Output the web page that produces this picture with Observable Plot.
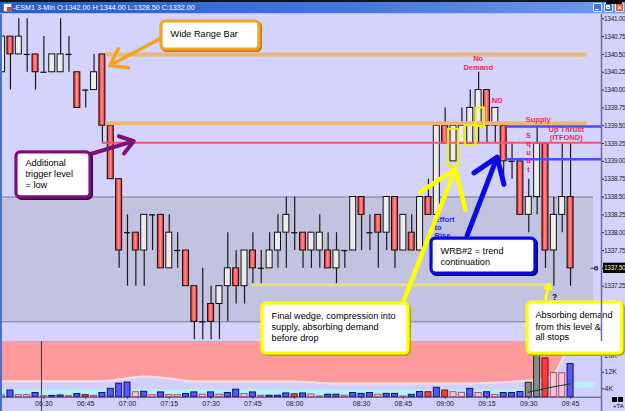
<!DOCTYPE html>
<html>
<head>
<meta charset="utf-8">
<script src="https://cdn.jsdelivr.net/npm/d3@7"></script>
<script src="https://cdn.jsdelivr.net/npm/@observablehq/plot@0.6"></script>
<style>
html,body{margin:0;padding:0;background:#d3d3fb;}
#wrap{position:relative;width:625px;height:411px;overflow:hidden;font-family:"Liberation Sans",Arial,sans-serif;}
#topline{position:absolute;left:0;top:0;width:625px;height:2px;background:#151515;z-index:6}
#xbox{position:absolute;left:606px;top:0;width:16px;height:4px;background:#000;z-index:7}
#tbar{position:absolute;left:0;top:2px;width:625px;height:12px;background:linear-gradient(to right,#2b5bc4 0%,#4676d6 55%,#6c9de8 100%);border-bottom:1px solid #a9c6f2;box-sizing:border-box;z-index:6}
#ticon{position:absolute;left:3px;top:1px;width:7px;height:7px;background:#fff;border:1px solid #6a7aa8;}
#ticon:after{content:"";position:absolute;left:3px;top:3px;width:4px;height:4px;background:#d04040;}
#ttext{position:absolute;left:13px;top:1px;font-size:7.2px;line-height:9px;color:#fff;white-space:nowrap;}
.btn{position:absolute;top:1px;width:9px;height:9px;border:1px solid #e8f0ff;box-sizing:border-box;background:#3f6fda;border-radius:1px;color:#fff;font-size:8px;line-height:7px;text-align:center;font-weight:bold}
.cls{background:#e0582c}
.g1{position:absolute;left:1px;top:5px;width:4px;height:1px;background:#fff}
.g2{position:absolute;left:1px;top:1px;width:4px;height:4px;border:1px solid #fff;border-top-width:2px;box-sizing:border-box}
#lborder{position:absolute;left:0;top:14px;width:2px;height:397px;background:#4d6ec6;z-index:5}
#corner{position:absolute;left:611px;top:397px;width:14px;height:14px;z-index:5}
.sq{position:absolute;top:0;width:5px;height:5px;background:#000}
#ta{position:absolute;left:2px;top:6px;font-size:6px;color:#000}
#wrap svg{position:absolute;left:0}
</style>
</head>
<body>
<div id="wrap">
  <div id="topline"></div>
  <div id="xbox"></div>
  <div id="tbar">
    <div id="ticon"></div>
    <div id="ttext">-ESM1 3-Min O:1342.00 H:1344.00 L:1328.50 C:1332.00</div>
    <div class="btn" style="left:593px"><div class="g1"></div></div>
    <div class="btn" style="left:604px"><div class="g2"></div></div>
    <div class="btn cls" style="left:615px">×</div>
  </div>
  <div id="lborder"></div>
  <div id="corner"><span class="sq" style="left:1px"></span><span class="sq" style="left:7px"></span><span id="ta">+TA</span></div>
</div>
<script>
// ---------- DATA (3-min bars, index 0 = 06:15) ----------
const open = [
  1340.25,1340.75,1340.50,1340.50,1340.50,1340.25,1340.25,1340.25,1340.50,1340.25,
  1340.00,1340.00,1340.50,1339.50,1338.75,1338.00,1338.00,1337.75,1338.25,1338.25,
  1337.50,1337.75,1337.75,1337.25,1336.75,1337.00,1337.00,1337.25,1337.50,1337.25,
  1337.75,1337.50,1337.50,1337.75,1338.00,1338.00,1338.00,1337.75,1337.75,1337.75,
  1337.50,1337.75,1337.75,1338.50,1338.00,1338.25,1338.00,1338.50,1337.75,1338.00,
  1337.75,1338.50,1338.25,1339.50,1339.00,1339.25,1339.25,1339.50,1340.00,1339.50,
  1339.50,1339.00,1339.00,1338.25,1338.50,1339.25,1337.75,1338.25,1338.50];
const high = [
  1340.75,1340.75,1341.00,1341.00,1340.50,1340.75,1340.50,1341.00,1340.75,1340.25,
  1340.00,1340.50,1340.50,1339.50,1338.75,1338.25,1338.00,1338.25,1338.25,1338.25,
  1338.25,1338.00,1337.75,1337.25,1337.50,1337.25,1337.25,1338.00,1337.75,1337.75,
  1338.00,1337.75,1338.00,1338.25,1338.50,1338.50,1338.00,1338.00,1338.25,1338.00,
  1338.00,1337.75,1338.50,1338.50,1338.25,1338.25,1338.50,1338.50,1338.25,1338.25,
  1338.50,1338.75,1339.50,1339.75,1339.50,1339.75,1340.00,1340.25,1340.00,1339.75,
  1339.50,1339.25,1339.00,1338.75,1339.50,1339.25,1338.50,1339.25,1339.25];
const low = [
  1340.25,1340.00,1340.50,1340.25,1340.00,1340.25,1340.25,1340.25,1340.25,1339.75,
  1339.75,1340.00,1339.25,1338.75,1337.50,1337.25,1337.25,1337.25,1337.75,1337.50,
  1337.50,1337.50,1337.25,1336.50,1336.50,1336.50,1336.50,1336.75,1337.00,1337.00,
  1337.25,1337.25,1337.50,1337.50,1337.50,1337.75,1337.50,1337.50,1337.50,1337.50,
  1337.25,1337.50,1337.75,1337.75,1337.75,1337.50,1337.75,1337.50,1337.75,1337.75,
  1337.75,1338.25,1338.25,1339.25,1339.00,1339.25,1339.25,1339.25,1339.25,1339.25,
  1338.75,1338.75,1338.25,1338.00,1338.25,1337.50,1337.25,1338.00,1337.25];
const close = [
  1340.75,1340.50,1340.75,1340.50,1340.25,1340.25,1340.50,1340.50,1340.50,1339.75,
  1340.00,1340.25,1339.50,1338.75,1337.75,1338.00,1337.75,1338.25,1338.25,1337.50,
  1338.00,1337.75,1337.25,1336.75,1336.75,1336.75,1337.25,1337.50,1337.25,1337.75,
  1337.50,1337.50,1337.75,1338.00,1338.25,1338.00,1337.75,1338.00,1338.00,1337.50,
  1337.75,1337.75,1338.50,1338.25,1338.00,1338.00,1338.50,1337.75,1338.25,1337.75,
  1338.50,1338.25,1339.50,1339.25,1339.50,1339.50,1339.75,1340.00,1339.50,1339.75,
  1339.00,1339.00,1338.25,1338.50,1339.25,1337.75,1338.25,1338.50,1337.50];
// volume in thousands, and the bar colour class (b blue, r red, p pink, g grey)
const volume = [
  0.8,3.2,1.0,1.0,2.0,0.5,0.6,0.8,0.5,1.5,
  1.0,0.6,2.0,4.0,6.5,7.0,2.4,2.6,1.0,2.3,
  1.0,1.0,1.5,2.3,1.2,2.3,1.2,2.0,3.6,1.5,
  2.3,0.6,0.7,0.7,1.8,1.4,1.8,1.3,0.3,1.2,
  1.2,0.7,2.0,1.6,2.0,1.2,1.6,1.6,0.3,1.1,
  2.5,2.4,4.5,3.2,2.4,2.1,4.0,2.0,2.4,1.1,
  2.0,2.0,2.5,6.9,26.0,18.6,11.6,11.5,15.9];
const volKind = [
  "p","b","p","p","b","p","b","b","p","b",
  "r","p","b","b","b","b","p","b","p","b",
  "p","p","b","b","p","b","p","b","b","p",
  "b","p","b","b","b","r","b","p","p","b",
  "b","p","b","b","b","p","b","b","p","b",
  "b","r","b","r","p","p","b","p","b","p",
  "b","b","b","g","g","r","p","p","b"];
// time axis
const timeTickIdx = [5,10,15,20,25,30,35,43,48,53,58,63,68];
const timeTickLbl = ["06:30","06:45","07:00","07:15","07:30","07:45","08:00","08:30","08:45","09:00","09:15","09:30","09:45"];
const priceTicks = [1341.00,1340.75,1340.50,1340.25,1340.00,1339.75,1339.50,1339.25,1339.00,1338.75,1338.50,1338.25,1338.00,1337.75,1337.50,1337.25];
const volTicks = [4,12,20];
// volume-panel background envelope (K) and cyan band, and volume average
const envIdx = [-0.2,12,17,20,23,35,40,56,60,63,64.5,66.0,66.6,67.2,68,69,71.7];
const envVal = [7.7,7.7,9.9,9.0,7.5,7.5,6.6,6.6,7.2,8.0,8.5,11,15,19.5,21.6,22.3,22.4];
const cyIdx = [-0.2,30,58,63,66,68,71];
const cyLo  = [1.0,1.0,1.2,1.6,2.8,4.0,4.6];
const cyHi  = [3.6,3.6,3.4,4.2,5.5,6.8,7.2];
const maIdx = [62.9,64,65,66,67,68];
const maVal = [2.4,3.3,4.2,5.0,5.7,6.4];
// shaded range and cursor
const bandLo = 1336.75, bandHi = 1338.50, bandEnd = 70.74;
const cursorIdx = 4.71;
// horizontal levels
const levelKind  = ["wrbHigh","wrbLow","trigger","utHigh","utLow","demand"];
const levelPrice = [1340.50,1339.535,1339.26,1339.49,1339.03,1337.27];
const levelFrom  = [12.4,12.4,12.0,60.4,60.4,29.9];
const levelTo    = [70.0,70.0,71.7,71.7,71.7,65.8];
// annotation boxes (data coordinates)
const noteKind = ["wrb","trigger","wedge","wrb2","absorb"];
const noteText = [["Wide Range Bar"],["Additional","trigger level","= low"],["Final wedge, compression into","supply, absorbing demand","before drop"],["WRB#2 = trend","continuation"],["Absorbing demand","from this level &","all stops"]];
const noteX1 = [19.07,1.72,31.15,51.37,62.85];
const noteX2 = [30.79,10.58,48.61,63.80,74.2];
const noteTop = [1340.962,1339.125,1337.007,1337.918,1337.021];
const noteBottom = [1340.569,1338.494,1336.306,1337.427,1336.306];
const noteTextX = [20.14,2.80,32.23,52.44,63.8];
const noteLineY = [[1340.78],[1338.975,1338.816,1338.672],[1336.825,1336.671,1336.517],[1337.737,1337.583],[1336.839,1336.677,1336.530]];
// arrows
const arrowKind = ["wrb","trigger","wedge","wrb2","absorb"];
const arrowFromX = [18.86,10.37,48.05,55.63,65.0];
const arrowFromY = [1340.719,1339.096,1337.049,1337.961,1337.073];
const arrowToX = [12.88,15.75,54.23,59.22,65.4];
const arrowToY = [1340.345,1339.283,1338.896,1339.059,1337.273];
// red VSA tags
const tagText = ["No","Demand","ND","Supply","Up Thrust","(ITFOND)","S","q","u","a","t"];
const tagX = [56.95,56.95,59.22,64.13,67.48,67.48,62.97,62.97,62.97,62.97,62.97];
const tagY = [1340.439,1340.321,1339.854,1339.592,1339.443,1339.331,1339.363,1339.244,1339.125,1339.005,1338.886];
const effortText = ["Effort","to","Rise"];
const effortX = 51.72;
const effortY = [1338.185,1338.073,1337.961];
// yellow highlight boxes
const hlX1 = [53.4,55.4,56.7], hlX2 = [54.6,56.7,57.7];
const hlTop = [1339.45,1339.50,1339.75], hlBottom = [1338.93,1339.22,1339.49];
const qMark = {i: 66.08, p: 1337.095};

// ---------- SCALE CONFIG ----------
const xMin = -0.19, xMax = 71.7;
const pMin = 1336.474, pMax = 1341.06;
const vMax = 26.71;
const FONT = "'Liberation Sans', Arial, sans-serif";

// ---------- STYLES ----------
const bw = 0.36;
const LSTYLE = {wrbHigh:{c:"#ebb777",w:4}, wrbLow:{c:"#ebb777",w:4}, trigger:{c:"#ee5878",w:2}, utHigh:{c:"#4b4bff",w:2.5}, utLow:{c:"#4b4bff",w:2.5}, demand:{c:"#e4e07a",w:3}};
const NSTYLE = {wrb:{c:"#f5a31e",s:"#c67a08"}, trigger:{c:"#7b127b",s:"#3e063e"}, wedge:{c:"#ffff00",s:"#a8a800"}, wrb2:{c:"#0a0ae6",s:"#04046a"}, absorb:{c:"#ffff00",s:"#a8a800"}};
const ASTYLE = {wrb:{w:3.5,h:11}, trigger:{w:4,h:12}, wedge:{w:4.5,h:14}, wrb2:{w:5,h:15}, absorb:{w:3,h:8}};
const VSTYLE = {b:{f:"#5656ff",s:"#10106a"}, r:{f:"#ff3a3a",s:"#6a1010"}, p:{f:"#ffc4d6",s:"#b05070"}, g:{f:"#8a8a8a",s:"#202020"}};

// ---------- BUILD ----------
const candles = open.map((o, i) => ({i, o, h: high[i], l: low[i], c: close[i]}));
const upC = candles.filter(d => d.c > d.o);
const dnC = candles.filter(d => d.c < d.o);
const djC = candles.filter(d => d.c === d.o);
const levels = levelKind.map((k, j) => ({k, p: levelPrice[j], a: levelFrom[j], b: levelTo[j]}));
const notes = noteKind.map((k, j) => ({k, x1: noteX1[j], x2: noteX2[j], y1: noteBottom[j], y2: noteTop[j]}));
const noteLines = noteKind.flatMap((k, j) => noteText[j].map((t, m) => ({t, x: noteTextX[j], y: noteLineY[j][m]})));
const arrows = arrowKind.map((k, j) => ({k, x1: arrowFromX[j], y1: arrowFromY[j], x2: arrowToX[j], y2: arrowToY[j]}));
const tags = tagText.map((t, j) => ({t, x: tagX[j], y: tagY[j]}));
const efforts = effortText.map((t, j) => ({t, x: effortX, y: effortY[j]}));
const hls = hlX1.map((v, j) => ({x1: v, x2: hlX2[j], y1: hlBottom[j], y2: hlTop[j]}));
const lastClose = close[close.length - 1];

const priceMarks = [
  Plot.rect([0], {x1: xMin, x2: bandEnd, y1: bandLo, y2: bandHi, fill: "#c2c2e1"}),
  Plot.ruleY([bandLo, bandHi], {x1: xMin, x2: bandEnd, stroke: "#7e7e96", strokeWidth: 1}),
  Plot.ruleX(candles, {x: "i", y1: "l", y2: "h", stroke: "#1a1a1a", strokeWidth: 1.2}),
  Plot.rect(upC, {x1: d => d.i - bw, x2: d => d.i + bw, y1: "o", y2: "c", fill: "#ececec", stroke: "#111", strokeWidth: 1}),
  Plot.rect(dnC, {x1: d => d.i - bw, x2: d => d.i + bw, y1: "o", y2: "c", fill: "#ff3c3c", stroke: "#111", strokeWidth: 1}),
  Plot.ruleY(djC, {y: "o", x1: d => d.i - bw, x2: d => d.i + bw, stroke: "#111", strokeWidth: 1.3}),
  ...levels.map(d => Plot.ruleY([d], {y: "p", x1: "a", x2: "b", stroke: LSTYLE[d.k].c, strokeWidth: LSTYLE[d.k].w})),
  Plot.rect(hls, {x1: "x1", x2: "x2", y1: "y1", y2: "y2", fill: "none", stroke: "#f2f200", strokeWidth: 2}),
  Plot.text(tags, {x: "x", y: "y", text: "t", fill: "#ff1e50", fontSize: 7.5, fontWeight: "bold", fontFamily: FONT}),
  Plot.text(efforts, {x: "x", y: "y", text: "t", textAnchor: "start", fill: "#2828ff", fontSize: 7.5, fontWeight: "bold", fontFamily: FONT}),
  ...arrows.map(d => Plot.arrow([d], {x1: "x1", y1: "y1", x2: "x2", y2: "y2", stroke: NSTYLE[d.k].c, strokeWidth: ASTYLE[d.k].w, headLength: ASTYLE[d.k].h, headAngle: 70})),
  ...notes.map(d => Plot.rect([d], {x1: "x1", x2: "x2", y1: "y1", y2: "y2", fill: "none", stroke: NSTYLE[d.k].s, strokeWidth: 3, rx: 4, dx: 1.5, dy: 1.5})),
  ...notes.map(d => Plot.rect([d], {x1: "x1", x2: "x2", y1: "y1", y2: "y2", fill: "#ffffff", stroke: NSTYLE[d.k].c, strokeWidth: 3.2, rx: 4})),
  Plot.text(noteLines, {x: "x", y: "y", text: "t", textAnchor: "start", fill: "#000", fontSize: 9.2, fontFamily: FONT}),
  Plot.text([qMark], {x: "i", y: "p", text: () => "?", fill: "#111", fontSize: 8.5, fontWeight: "bold", fontFamily: FONT}),
  Plot.ruleX([xMax], {stroke: "#6a6aa8", strokeWidth: 1.5}),
  Plot.rect([lastClose], {x1: 71.94, x2: 74.6, y1: d => d - 0.072, y2: d => d + 0.072, fill: "#000"}),
  Plot.text([lastClose], {x: 72.0, y: d => d, text: d => d3.format(".2f")(d), textAnchor: "start", fill: "#ffff8c", fontSize: 6.5, fontFamily: FONT}),
  Plot.ruleY([lastClose], {x1: 70.45, x2: 70.85, stroke: "#303090", strokeWidth: 1}),
  Plot.dot([lastClose], {x: 71.05, y: d => d, r: 1.6, stroke: "#303090", fill: "none"})
];

const price = Plot.plot({
  width: 625, height: 327,
  marginLeft: 0, marginRight: 24, marginTop: 0, marginBottom: 0,
  x: {domain: [xMin, xMax], axis: null},
  y: {domain: [pMin, pMax], axis: "right", ticks: priceTicks, tickFormat: d3.format(".2f"), tickSize: 2, tickPadding: 0.5, label: null},
  style: {background: "#d3d3fb", overflow: "visible", fontFamily: FONT, fontSize: "6.5px", color: "#1a1a2a"},
  marks: priceMarks
});

// red body gradient
const svgP = d3.select(price);
const defs = svgP.insert("defs", ":first-child");
const grad = defs.append("linearGradient").attr("id", "redBody").attr("x1", "0").attr("x2", "1").attr("y1", "0").attr("y2", "0");
grad.append("stop").attr("offset", "0").attr("stop-color", "#ff1010");
grad.append("stop").attr("offset", "0.5").attr("stop-color", "#ff9a9a");
grad.append("stop").attr("offset", "1").attr("stop-color", "#ff1010");
svgP.selectAll('[fill="#ff3c3c"]').attr("fill", "url(#redBody)");
// condensed price-axis labels so they fit in the narrow right gutter
svgP.selectAll('g[aria-label="y-axis tick label"] text, g[aria-label="y-axis tick label"]').attr("letter-spacing", "-0.3px");
svgP.selectAll('text').filter(function(){ return /^13\d\d\.\d\d$/.test(this.textContent); }).attr("letter-spacing", "-0.3px");

const lblMap = new Map(timeTickIdx.map((v, j) => [v, timeTickLbl[j]]));
const env = envIdx.map((i, j) => ({i, v: envVal[j]}));
const cyan = cyIdx.map((i, j) => ({i, lo: cyLo[j], hi: cyHi[j]}));
const ma = maIdx.map((i, j) => ({i, v: maVal[j]}));
const vols = volume.map((v, i) => ({i, v, k: volKind[i]}));

const vol = Plot.plot({
  width: 625, height: 70,
  marginLeft: 0, marginRight: 24, marginTop: 0, marginBottom: 14.3,
  x: {domain: [xMin, xMax], ticks: timeTickIdx, tickFormat: d => lblMap.get(d), tickSize: 2, tickPadding: 1.5, label: null},
  y: {domain: [0, vMax], axis: "right", ticks: volTicks, tickFormat: d => d + "K", tickSize: 2, tickPadding: 1, label: null},
  style: {background: "#d0d0fb", fontFamily: FONT, fontSize: "7px", color: "#1a1a2a"},
  marks: [
    Plot.areaY(env, {x: "i", y1: "v", y2: vMax, fill: "#ff9a9c", curve: "monotone-x"}),
    Plot.line(env, {x: "i", y: "v", stroke: "#ffdce2", strokeWidth: 2, curve: "monotone-x"}),
    Plot.areaY(cyan, {x: "i", y1: "lo", y2: "hi", fill: "#b2f2f4", curve: "monotone-x"}),
    Plot.ruleX([cursorIdx], {y1: -7, y2: vMax, stroke: "#3a3a3a", strokeWidth: 1}),
    ...["b", "r", "p", "g"].map(k => Plot.rect(vols.filter(d => d.k === k), {x1: d => d.i - bw, x2: d => d.i + bw, y1: 0, y2: "v", fill: VSTYLE[k].f, stroke: VSTYLE[k].s, strokeWidth: 1})),
    Plot.line(ma, {x: "i", y: "v", stroke: "#2a2a2a", strokeWidth: 1}),
    Plot.ruleY([0], {stroke: "#4a4a70", strokeWidth: 1}),
    Plot.ruleX([xMax], {y1: -7, y2: vMax, stroke: "#6a6aa8", strokeWidth: 1.5})
  ]
});

price.setAttribute("id", "price");
vol.setAttribute("id", "vol");
price.style.top = "14px"; price.style.zIndex = "2";
vol.style.top = "341px"; vol.style.zIndex = "1";
document.getElementById("wrap").appendChild(vol);
document.getElementById("wrap").appendChild(price);
</script>
</body>
</html>
